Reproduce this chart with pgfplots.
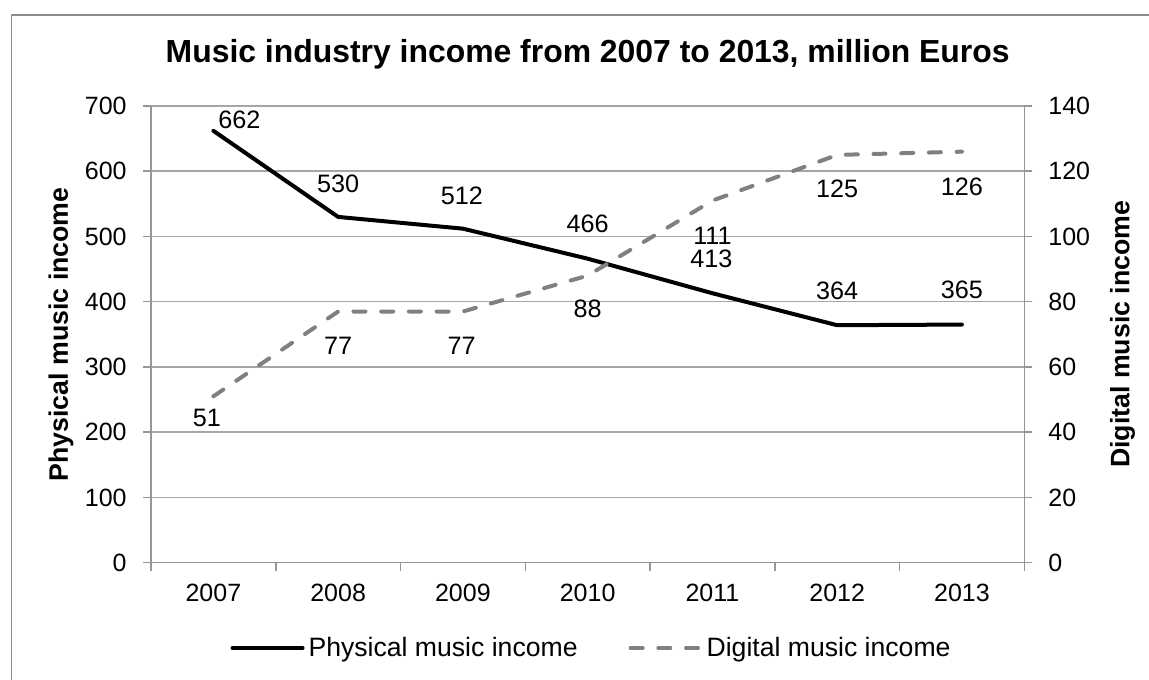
\documentclass[border=0pt]{standalone}
\usepackage{fontspec}
\setmainfont{Liberation Sans}
\usepackage{pgfplots}
\pgfplotsset{compat=1.18}
\usepackage{pgfplotstable}

\definecolor{gridc}{RGB}{166,166,166}
\definecolor{axisc}{RGB}{150,150,150}
\definecolor{digc}{RGB}{128,128,128}
\definecolor{borderc}{RGB}{140,140,140}

\pgfplotstableread{
x y lab dx dy
0 662 662 13 5.5
1 530 530 0 16.7
2 512 512 -0.5 16.3
3 466 466 0 17.2
4 413 413 -0.5 17
5 364 364 0 17
6 365 365 0 17.5
}\phys

\pgfplotstableread{
x y lab dx dy
0 51 51 -3.25 -10.7
1 77 77 0 -17
2 77 77 -0.6 -17
3 88 88 0 -16.7
4 111 111 0 -17.5
5 125 125 0 -16.7
6 126 126 0 -17.5
}\digi

\newcommand{\tickfont}{\fontsize{12.5}{15}\selectfont}
\pgfplotsset{
  myaxis/.style={
    scale only axis, width=436.65pt, height=228.35pt,
    at={(75.5pt,58.15pt)}, anchor=south west,
    xmin=-0.5, xmax=6.5, ymin=0, clip=false,
    tick align=outside, major tick length=4pt,
    tick style={axisc, line width=0.75pt},
    axis line style={axisc, line width=0.75pt},
    /pgf/number format/assume math mode=true,
    label style={font=\bfseries\fontsize{13.35}{16}\selectfont},
  },
  labelled/.style={
    nodes near coords, point meta=explicit symbolic,
    visualization depends on={\thisrow{dx} \as \dxv},
    visualization depends on={\thisrow{dy} \as \dyv},
    every node near coord/.append style={anchor=center, xshift=\dxv pt, yshift=\dyv pt,
      font=\fontsize{12.6}{15}\selectfont, text=black, inner sep=0pt},
  },
  physline/.style={black, line width=2pt, line join=round, line cap=round},
  digline/.style={digc, line width=2pt, line join=round, line cap=round, dash pattern=on 6pt off 7.85pt},
}

\begin{document}
\begin{tikzpicture}
\useasboundingbox (0,0) rectangle (574.5pt,339.5pt);
\draw[borderc, line width=0.75pt] (5.85pt,-5pt) -- (5.85pt,332pt) -- (590pt,332pt);

\begin{axis}[myaxis,
  ymax=700, ytick={0,100,200,300,400,500,600,700}, yticklabels={},
  axis x line*=bottom, axis y line*=left,
  ymajorgrids, grid style={gridc, line width=0.75pt},
  xtick={-0.5,0.5,...,6.5}, xticklabels={},
  extra x ticks={0,1,2,3,4,5,6},
  extra x tick labels={2007,2008,2009,2010,2011,2012,2013},
  extra x tick style={tick style={draw=none}},
  xticklabel style={font=\tickfont, anchor=north, inner sep=0pt, yshift=-6.65pt},
  ylabel={Physical music income},
  ylabel style={at={(axis description cs:-0.1031,0.5)}, anchor=center, rotate=0},
  title={Music industry income from 2007 to 2013, million Euros},
  title style={at={(axis description cs:0.5,1.0686)}, anchor=base,
    font=\bfseries\fontsize{15.95}{19}\selectfont},
]
\addplot[physline, labelled] table[x=x, y=y, meta=lab] {\phys};
\pgfplotsinvokeforeach{0,100,200,300,400,500,600,700}{
  \node[anchor=east, inner sep=0pt, xshift=-12pt, font=\tickfont] at (axis cs:-0.5,#1) {#1};
}
\end{axis}

\begin{axis}[myaxis,
  ymax=140, ytick={0,20,40,60,80,100,120,140}, yticklabels={},
  axis y line*=right, axis x line=none,
  ylabel={Digital music income},
  ylabel style={at={(axis description cs:1.1125,0.5)}, anchor=center, rotate=0},
  legend style={at={(axis description cs:0.5056,-0.1868)}, anchor=center, draw=none,
    font=\fontsize{13.3}{16}\selectfont, legend columns=2,
    /tikz/every even column/.append style={column sep=23.5pt}},
  legend cell align=left,
  legend image code/.code={\draw[#1] (0pt,0pt) -- (35pt,0pt);},
]
\addlegendimage{physline}
\addlegendentry{Physical music income}
\addplot[digline, labelled] table[x=x, y=y, meta=lab] {\digi};
\addlegendentry{Digital music income}
\pgfplotsinvokeforeach{0,20,40,60,80,100,120,140}{
  \node[anchor=west, inner sep=0pt, xshift=11.85pt, font=\tickfont] at (axis cs:6.5,#1) {#1};
}
\end{axis}
\end{tikzpicture}
\end{document}
